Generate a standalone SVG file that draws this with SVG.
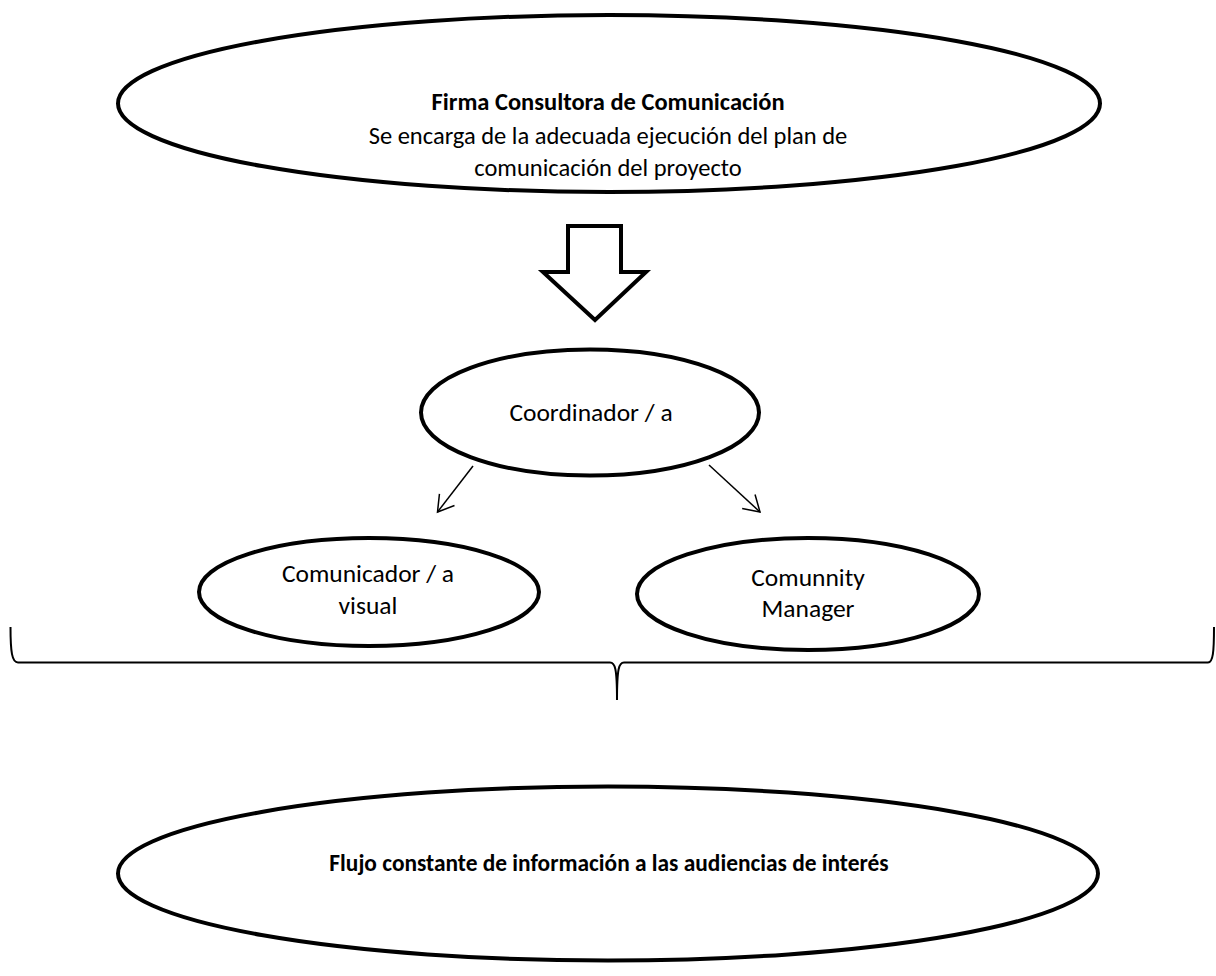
<svg xmlns="http://www.w3.org/2000/svg" width="1216" height="976" viewBox="0 0 1216 976">
  <style>
    .shape { fill: #ffffff; stroke: #000000; stroke-width: 4; }
    .txt { font-family: Carlito, Lato, "Liberation Sans", sans-serif; font-size: 24.5px; fill: #000000; text-anchor: middle; }
    .mid { font-size: 25.5px; }
    .bold { font-weight: bold; }
    .small { font-size: 23.4px; }
    .conn { fill: none; stroke: #000000; stroke-width: 1.5; }
    .brace { fill: none; stroke: #000000; stroke-width: 2; }
  </style>
  <defs>
    <marker id="open" markerUnits="userSpaceOnUse" markerWidth="24" markerHeight="24" viewBox="-20 -12 24 24" refX="0" refY="0" orient="auto" overflow="visible">
      <path d="M -15.5 -9.5 L 0 0 L -15.5 9.5" fill="none" stroke="#000000" stroke-width="1.5"/>
    </marker>
  </defs>
  <rect width="1216" height="976" fill="#ffffff"/>

  <g id="firma">
    <ellipse class="shape" cx="609" cy="103.5" rx="491" ry="88.5"/>
    <text class="txt bold" x="608" y="110">Firma Consultora de Comunicación</text>
    <text class="txt" x="608" y="144">Se encarga de la adecuada ejecución del plan de</text>
    <text class="txt" x="608" y="176">comunicación del proyecto</text>
  </g>

  <g id="block-arrow">
    <path class="shape" d="M 568 226 L 621 226 L 621 272 L 646 272 L 595 320 L 543 272 L 568 272 Z" stroke-linejoin="miter"/>
  </g>

  <g id="coordinador">
    <ellipse class="shape" cx="590" cy="412.5" rx="169" ry="63"/>
    <text class="txt mid" x="591" y="421">Coordinador / a</text>
  </g>

  <g id="comunicador">
    <ellipse class="shape" cx="369" cy="592" rx="170" ry="54"/>
    <text class="txt mid" x="368" y="582">Comunicador / a</text>
    <text class="txt mid" x="368" y="614">visual</text>
  </g>

  <g id="community">
    <ellipse class="shape" cx="808" cy="594" rx="171" ry="56"/>
    <text class="txt mid" x="808" y="586">Comunnity</text>
    <text class="txt mid" x="808" y="617">Manager</text>
  </g>

  <g id="connectors">
    <path class="conn" d="M 473 466 L 437.5 512" marker-end="url(#open)"/>
    <path class="conn" d="M 709 465 L 760 512" marker-end="url(#open)"/>
    <path class="brace" d="M 10.5 627 C 10.5 652 12 662.5 18 662.5 L 610 662.5 C 615 662.5 617 668 617 700 C 617 668 619 662.5 624 662.5 L 1208 662.5 C 1213 662.5 1214 652 1214 627"/>
  </g>

  <g id="flujo">
    <ellipse class="shape" cx="608" cy="873.5" rx="490" ry="87"/>
    <text class="txt bold small" x="609" y="871">Flujo constante de información a las audiencias de interés</text>
  </g>
</svg>
